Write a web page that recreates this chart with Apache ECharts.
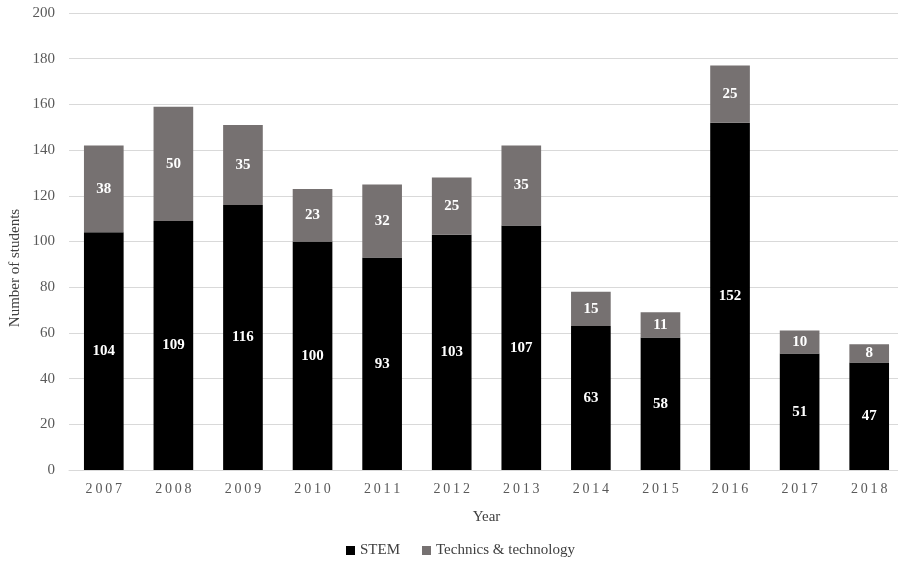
<!DOCTYPE html>
<html>
<head>
<meta charset="utf-8">
<script src="https://cdn.jsdelivr.net/npm/echarts@6/dist/echarts.min.js"></script>
<style>html,body{margin:0;padding:0;background:#fff}#chart{width:898px;height:566px}</style>
</head>
<body>
<div id="chart"></div>
<script>
const years = ['2007','2008','2009','2010','2011','2012','2013','2014','2015','2016','2017','2018'];
const stem = [104, 109, 116, 100, 93, 103, 107, 63, 58, 152, 51, 47];
const technics = [38, 50, 35, 23, 32, 25, 35, 15, 11, 25, 10, 8];
const yTicks = { min: 0, max: 200, interval: 20 };

const serif = '"Liberation Serif", "Times New Roman", serif';
const chart = echarts.init(document.getElementById('chart'));

const barLabel = {
  show: true,
  position: 'inside',
  color: '#fff',
  fontFamily: serif,
  fontWeight: 'bold',
  fontSize: 15
};

chart.setOption({
  animation: false,
  textStyle: { fontFamily: serif },
  grid: { left: 69, right: -6, top: 13, bottom: 96, containLabel: false, outerBoundsMode: 'none' },
  legend: {
    bottom: 3,
    left: 341,
    itemWidth: 9,
    itemHeight: 9,
    itemGap: 22,
    icon: 'rect',
    textStyle: { fontFamily: serif, fontSize: 15, color: '#404040' },
    data: ['STEM', 'Technics & technology']
  },
  graphic: [{
    type: 'text',
    x: 8,
    y: 268,
    rotation: Math.PI / 2,
    style: {
      text: 'Number of students',
      font: '15px ' + serif,
      fill: '#404040',
      align: 'center',
      verticalAlign: 'top'
    }
  }],
  xAxis: {
    type: 'category',
    data: years,
    name: 'Year',
    nameLocation: 'middle',
    nameGap: 40,
    nameTextStyle: { fontFamily: serif, fontSize: 15, color: '#404040' },
    axisLine: { lineStyle: { color: '#d9d9d9', width: 1 } },
    axisTick: { show: false },
    axisLabel: {
      color: '#595959',
      fontSize: 14,
      margin: 12,
      formatter: v => v.split('').join('\u2009')
    }
  },
  yAxis: {
    type: 'value',
    min: yTicks.min,
    max: yTicks.max,
    interval: yTicks.interval,
    axisLine: { show: false },
    axisTick: { show: false },
    axisLabel: { color: '#595959', fontSize: 15, margin: 14 },
    splitLine: { lineStyle: { color: '#d9d9d9', width: 1 } }
  },
  series: [
    {
      name: 'STEM',
      type: 'bar',
      stack: 'total',
      data: stem,
      barWidth: '57%',
      itemStyle: { color: '#000000' },
      label: barLabel
    },
    {
      name: 'Technics & technology',
      type: 'bar',
      stack: 'total',
      data: technics,
      barWidth: '57%',
      itemStyle: { color: '#767171' },
      label: barLabel
    }
  ]
});
</script>
</body>
</html>
